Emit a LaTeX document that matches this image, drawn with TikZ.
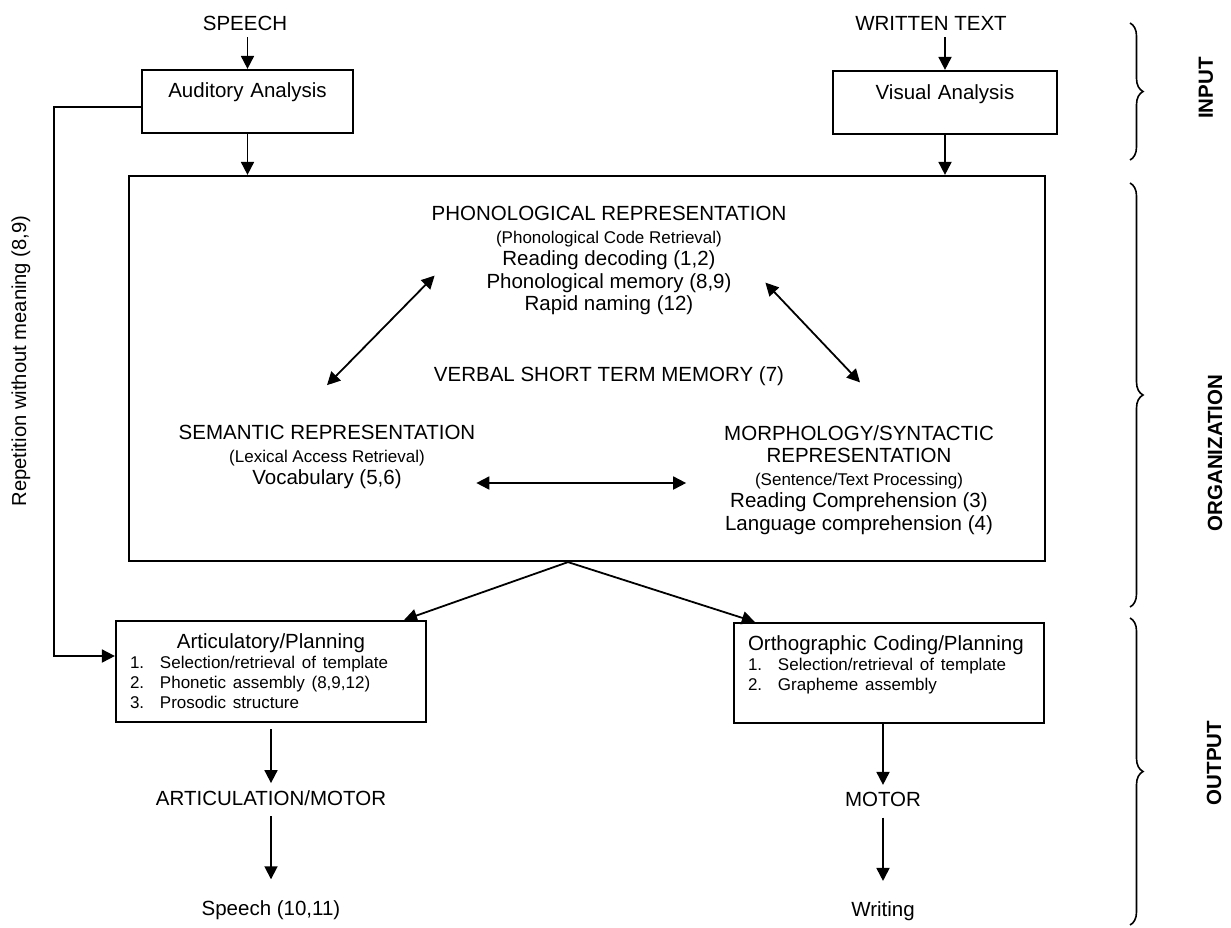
\documentclass[tikz,border=0pt]{standalone}
\usepackage{fontspec}
\setmainfont{Liberation Sans}
\usetikzlibrary{arrows.meta,calc,positioning,decorations.pathreplacing}
\setlength{\parindent}{0pt}

\newcommand{\bigtxt}{\fontsize{10.25pt}{11.25pt}\selectfont}
\newcommand{\smalltxt}{\fontsize{8.5pt}{10pt}\selectfont}
\newcommand{\stepno}[1]{\makebox[15pt][l]{#1}}
\newcommand{\padbelow}[1]{\rule[-#1]{0pt}{1pt}}

\begin{document}
\begin{tikzpicture}[x=0.5pt, y=-0.5pt, >={Triangle[length=6.5pt,width=6.5pt]},
    box/.style = {draw, line width=1.1pt, inner sep=0pt},
    txt/.style = {font=\bigtxt, align=center},
    plan/.style = {box, font=\bigtxt, align=left, text width=141pt, inner xsep=7pt},
    arr/.style = {->, line width=0.9pt},
    curly/.style = {decorate, decoration={brace, amplitude=6.5pt}, line width=0.8pt},
    side/.style = {font=\bigtxt\bfseries, rotate=90}]
    \useasboundingbox (0,0) rectangle (1231,927);
    % input
    \node[txt] (speech) at (245,23) {SPEECH};
    \node[txt] (written) at (931,23) {WRITTEN TEXT};
    \node[box, txt, text width=105.5pt, minimum height=31.5pt] (audit) at (247.5,101.5) {Auditory Analysis\padbelow{11.5pt}};
    \node[box, txt, text width=112pt, minimum height=31.5pt] (visual) at (945,102.5) {Visual Analysis\padbelow{10.5pt}};
    % organization
    \node[box, minimum width=458pt, minimum height=192.5pt] (org) at (587,368.5) {};
    \node[txt] (phon) at (609,260.6) {PHONOLOGICAL REPRESENTATION\\{\smalltxt (Phonological Code Retrieval)}\\Reading decoding (1,2)\\Phonological memory (8,9)\\Rapid naming (12)};
    \node[txt] (vstm) at (609,376) {VERBAL SHORT TERM MEMORY (7)};
    \node[txt] (sem) at (327,457) {SEMANTIC REPRESENTATION\\{\smalltxt (Lexical Access Retrieval)}\\Vocabulary (5,6)};
    \node[txt] (morph) at (859,480) {MORPHOLOGY/SYNTACTIC\\REPRESENTATION\\{\smalltxt (Sentence/Text Processing)}\\Reading Comprehension (3)\\Language comprehension (4)};
    % output
    \node[plan, minimum height=50.5pt] (artic) at (271,671.5) {{\centering Articulatory/Planning\par}\smalltxt
        \stepno{1.}Selection/retrieval of template\par
        \stepno{2.}Phonetic assembly (8,9,12)\par
        \stepno{3.}Prosodic structure\par};
    \node[plan, minimum height=50pt] (ortho) at (889,673) {Orthographic Coding/Planning\par\smalltxt
        \stepno{1.}Selection/retrieval of template\par
        \stepno{2.}Grapheme assembly\padbelow{9.8pt}\par};
    \node[txt] (artmotor) [below=30pt of artic] {ARTICULATION/MOTOR};
    \node[txt] (speechout) [below=40.5pt of artmotor] {Speech (10,11)};
    \node[txt] (motor) [below=30.4pt of ortho, xshift=-3pt] {MOTOR};
    \node[txt] (writing) [below=40.7pt of motor] {Writing};
    \node[font=\fontsize{10.1pt}{12pt}\selectfont, rotate=90] (replbl) at (21,361) {Repetition without meaning (8,9)};
    \coordinate (split) at ($(org.south)+(-19,0)$);
    % connectors
    \draw[arr] (speech.south -| audit.north) -- (audit.north);
    \draw[arr] (written.south -| visual.north) -- (visual.north);
    \draw[arr] (audit.south) -- (audit.south |- org.north);
    \draw[arr] (visual.south) -- (visual.south |- org.north);
    \draw[arr] ($(audit.west)+(0,5.5)$) -- ++(-87,0) |- ($(artic.west)+(0,-15.5)$);
    \draw[arr, <->] ($(phon.west)+(10,15)$) -- ($(sem.north)+(0,-33)$);
    \draw[arr, <->] ($(phon.east)+(-28,22)$) -- ($(morph.north)+(1,-36)$);
    \draw[arr, <->] ($(sem.east)+(-6,26)$) -- ($(morph.west)+(-31,3)$);
    \draw[arr] (split) -- ($(artic.north east)+(-23,0)$);
    \draw[arr] (split) -- ($(ortho.north west)+(22,0)$);
    \draw[arr, shorten <=3pt] (artic) -- (artmotor);
    \draw[arr, shorten <=2pt, shorten >=7pt] (artmotor) -- (speechout);
    \draw[arr] (ortho.south -| motor) -- (motor);
    \draw[arr, shorten <=2pt, shorten >=7pt] (motor) -- (writing);
    % braces
    \draw[curly] (1130,23) -- (1130,160);
    \draw[curly] (1130,183) -- (1130,607);
    \draw[curly] (1130,618) -- (1130,925);
    \node[side] (inlbl) at (1206,88) {INPUT};
    \node[side] (orglbl) at (1215,453) {ORGANIZATION};
    \node[side] (outlbl) at (1214,763) {OUTPUT};
\end{tikzpicture}
\end{document}
